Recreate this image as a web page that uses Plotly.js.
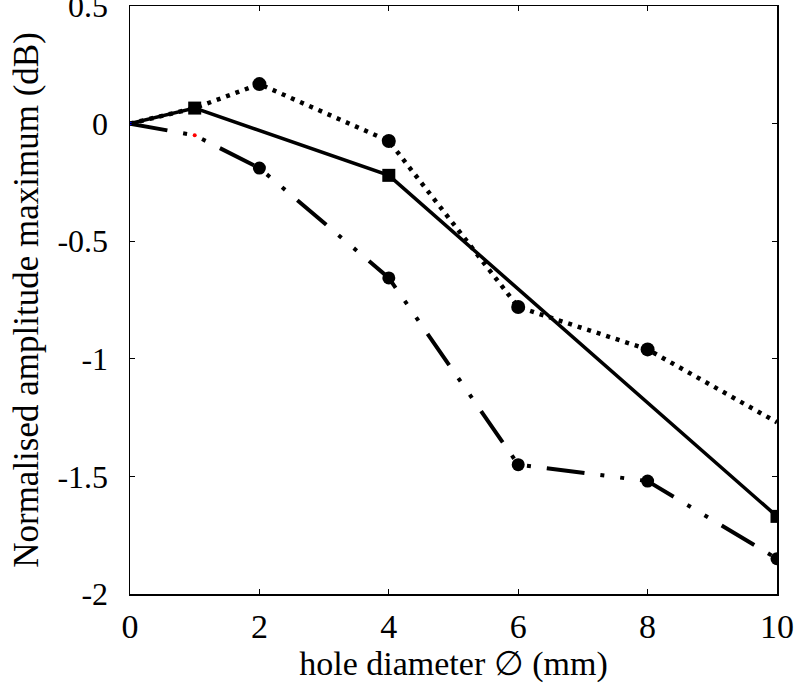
<!DOCTYPE html>
<html><head><meta charset="utf-8">
<script src="https://cdn.plot.ly/plotly-3.0.1.min.js"></script>
<style>body{margin:0;background:#fff}#c{width:805px;height:688px}</style>
</head><body><div id="c"></div>
<script>
const solidX = [0, 1, 4, 10];
const solidY = [0, 0.066, -0.22, -1.67];
const dottedX = [0, 1, 2, 4, 6, 8, 10];
const dottedY = [0, 0.066, 0.168, -0.074, -0.78, -0.96, -1.27];
const dashDotX = [0, 1, 2, 4, 6, 8, 10];
const dashDotY = [0, -0.05, -0.189, -0.656, -1.45, -1.52, -1.85];
const xTicks = [0, 2, 4, 6, 8, 10];
const yTicks = [-2, -1.5, -1, -0.5, 0, 0.5];
const yTickText = ['-2', '-1.5', '-1', '-0.5', '0', '0.5'];

const FAM = '"Times New Roman", "Liberation Serif", Times, serif';
const traces = [
  {x: dashDotX, y: dashDotY, mode: 'lines+markers', line: {color: '#000', width: 4, dash: '38px,16px,4px,16px,4px,16px'},
   marker: {symbol: 'circle', opacity: 1, line: {width: 0}, size: [3,4,13,13,13,13,13], color: ['#00f','#f00','#000','#000','#000','#000','#000']}},
  {x: dottedX, y: dottedY, mode: 'lines+markers', line: {color: '#000', width: 4.5, dash: '4px,6px'},
   marker: {symbol: 'circle', opacity: 1, line: {width: 0}, size: [0,0,14,14,14,14,0], color: '#000'}},
  {x: solidX, y: solidY, mode: 'lines+markers', line: {color: '#000', width: 3.5},
   marker: {symbol: 'square', opacity: 1, line: {width: 0}, size: [3,13,13,13], color: ['#00f','#000','#000','#000']}}
];
const layout = {
  width: 805, height: 688, showlegend: false,
  paper_bgcolor: '#fff', plot_bgcolor: '#fff',
  margin: {l: 130, r: 28, t: 6, b: 94},
  font: {family: FAM, size: 28, color: '#000'},
  xaxis: {range: [0, 10], tickvals: xTicks, ticktext: xTicks.map(String), ticks: 'inside', ticklen: 5, tickcolor: '#000',
    showline: true, linecolor: '#000', linewidth: 1.5, mirror: 'ticks', showgrid: false, zeroline: false,
    tickfont: {family: FAM, size: 34, color: '#000'}, ticklabeloverflow: 'allow', ticklabelstandoff: 2,
    title: {text: 'hole diameter \u2205 (mm)', font: {family: FAM, size: 34, color: '#000'}, standoff: 4}},
  yaxis: {range: [-2, 0.5], tickvals: yTicks, ticktext: yTickText, ticks: 'inside', ticklen: 5, tickcolor: '#000',
    showline: true, linecolor: '#000', linewidth: 1.5, mirror: 'ticks', showgrid: false, zeroline: false,
    tickfont: {family: FAM, size: 32, color: '#000'}, ticklabeloverflow: 'allow', ticklabelstandoff: 14,
    title: {text: 'Normalised amplitude maximum (dB)', font: {family: FAM, size: 35, color: '#000'}, standoff: 8}}
};
Plotly.newPlot('c', traces, layout, {displayModeBar: false, staticPlot: true});
</script>
</body></html>
